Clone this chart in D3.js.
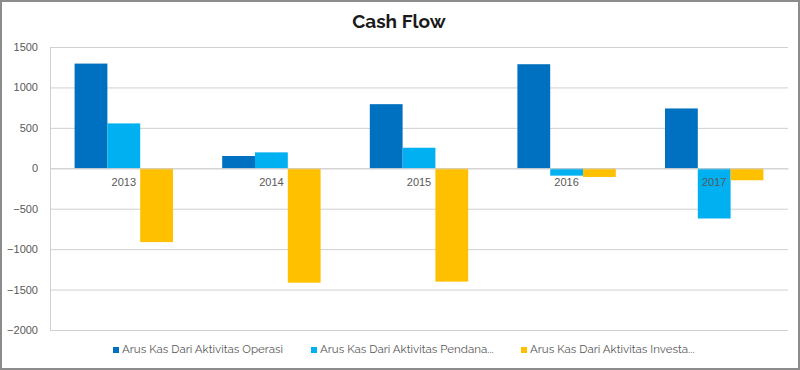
<!DOCTYPE html>
<html>
<head>
<meta charset="utf-8">
<script src="https://cdn.jsdelivr.net/npm/d3@7"></script>
<style>
  html, body { margin: 0; padding: 0; background: #fff; }
  svg { display: block; font-family: Raleway, Lato, "Open Sans", sans-serif; }
  .tick-lines line { stroke: #d0d0d0; }
  .axis text { fill: #595959; font-size: 11px; }
</style>
</head>
<body>
<svg id="chart"></svg>
<script>
const years = ['2013', '2014', '2015', '2016', '2017'];
const seriesNames = [
  'Arus Kas Dari Aktivitas Operasi',
  'Arus Kas Dari Aktivitas Pendana...',
  'Arus Kas Dari Aktivitas Investa...',
];
const operasi = [1295, 152, 793, 1287, 740];
const pendanaan = [555, 197, 254, -91, -621];
const investasi = [-913, -1415, -1402, -107, -148];
const yTicks = [-2000, -1500, -1000, -500, 0, 500, 1000, 1500];
const colors = ['#0070c0', '#00b0f0', '#ffc000'];

const width = 800;
const height = 370;
const margin = { top: 47, right: 12, bottom: 40, left: 50 };
const innerWidth = width - margin.left - margin.right;
const innerHeight = height - margin.top - margin.bottom;

const svg = d3.select('#chart').attr('width', width).attr('height', height);

// frame
svg.append('rect')
  .attr('x', 1).attr('y', 1)
  .attr('width', width - 2).attr('height', height - 2)
  .attr('fill', '#fff')
  .attr('stroke', '#8c8c8c')
  .attr('stroke-width', 2);

const g = svg.append('g')
  .attr('transform', `translate(${margin.left}, ${margin.top})`);

const x = d3.scaleBand()
  .range([0, innerWidth])
  .domain(years)
  .paddingInner(0)
  .paddingOuter(0);
const bandPad = x.bandwidth() * (0.75 / 4.5);
const xInner = d3.scaleBand()
  .domain(d3.range(3))
  .range([bandPad, x.bandwidth() - bandPad]);
const y = d3.scaleLinear()
  .domain([-2000, 1500])
  .range([innerHeight, 0]);

// grid lines
g.append('g')
  .attr('class', 'tick-lines')
  .call(d3.axisRight(y).tickValues(yTicks).tickSize(innerWidth).tickFormat(''))
  .call(s => s.select('.domain').remove());

// y axis line
g.append('line')
  .attr('x1', 0.5).attr('x2', 0.5)
  .attr('y1', 0).attr('y2', innerHeight)
  .attr('stroke', '#d0d0d0');

// y labels
g.append('g')
  .attr('class', 'axis')
  .attr('transform', 'translate(-9, 0)')
  .call(d3.axisLeft(y).tickValues(yTicks).tickSize(0).tickFormat(d3.format('d')))
  .call(s => s.select('.domain').remove());

const series = [operasi, pendanaan, investasi];
const rows = [];
series.forEach((vals, si) => {
  vals.forEach((v, i) => rows.push({ year: years[i], s: si, v }));
});

g.selectAll('.bar')
  .data(rows)
  .enter().append('rect')
    .attr('class', 'bar')
    .attr('fill', d => colors[d.s])
    .attr('x', d => x(d.year) + xInner(d.s))
    .attr('width', xInner.bandwidth())
    .attr('y', d => y(Math.max(0, d.v)))
    .attr('height', d => Math.abs(y(d.v) - y(0)));

// category labels, below zero line
g.append('g')
  .attr('class', 'axis')
  .attr('transform', `translate(0, ${y(0)})`)
  .call(d3.axisBottom(x).tickSize(0).tickPadding(10))
  .call(s => s.select('.domain').attr('stroke', '#d0d0d0'))
  .selectAll('text').attr('fill', '#404040');

// title
svg.append('text')
  .attr('x', 399)
  .attr('y', 28)
  .attr('text-anchor', 'middle')
  .attr('font-size', 19)
  .attr('font-weight', 'bold')
  .attr('fill', '#1a1a1a')
  .text('Cash Flow');

// legend
const legendX = [113, 311, 521];
const legend = svg.append('g');
seriesNames.forEach((name, i) => {
  const item = legend.append('g').attr('transform', `translate(${legendX[i]}, 353)`);
  item.append('rect')
    .attr('x', 0).attr('y', -6)
    .attr('width', 6).attr('height', 6)
    .attr('fill', colors[i]);
  item.append('text')
    .attr('x', 9).attr('y', 0)
    .attr('font-size', 11.5)
    .attr('fill', '#595959')
    .text(name);
});
</script>
</body>
</html>
